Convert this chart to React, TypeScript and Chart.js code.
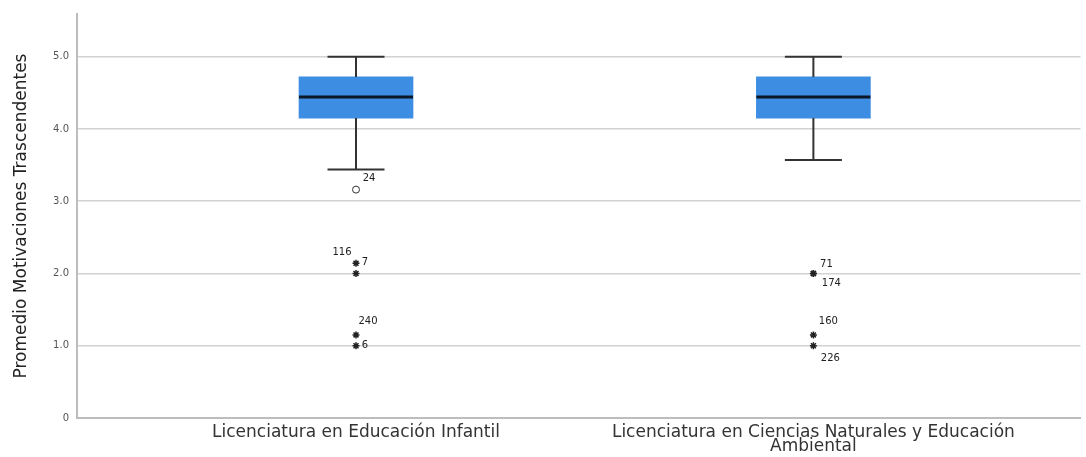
import React, { useEffect, useRef } from 'react';
import { Chart, registerables } from 'chart.js';

Chart.register(...registerables);

// ---- data ----
const categories = [
  'Licenciatura en Educación Infantil',
  'Licenciatura en Ciencias Naturales y Educación Ambiental',
];
const categoryLines = [
  ['Licenciatura en Educación Infantil'],
  ['Licenciatura en Ciencias Naturales y Educación', 'Ambiental'],
];
const whiskerLow = [3.44, 3.57];
const q1 = [4.15, 4.15];
const median = [4.44, 4.44];
const q3 = [4.72, 4.72];
const whiskerHigh = [5.0, 5.0];

const outlierCategory = [0, 0, 0, 0, 0, 1, 1, 1, 1];
const outlierValue = [3.16, 2.14, 2.0, 1.15, 1.0, 2.0, 2.0, 1.15, 1.0];
const outlierCase = ['24', '116', '7', '240', '6', '71', '174', '160', '226'];
const outlierKind = ['mild', 'extreme', 'extreme', 'extreme', 'extreme', 'extreme', 'extreme', 'extreme', 'extreme'];

const yTicks = [0, 1, 2, 3, 4, 5];
const yTitle = 'Promedio Motivaciones Trascendentes';

// ---- styles (label offsets in px relative to the point) ----
const labelOffsets: Record<string, [number, number]> = {
  '24': [13, -11],
  '116': [-14, -11],
  '7': [9, -11],
  '240': [12, -13],
  '6': [9, 0],
  '71': [13, -9],
  '174': [18, 10],
  '160': [15, -13],
  '226': [17, 13],
};

const FONT = "'DejaVu Sans', 'Liberation Sans', sans-serif";

const boxPlugin = {
  id: 'boxExtras',
  afterDatasetsDraw(chart: any) {
    const { ctx } = chart;
    const xs = chart.scales.x;
    const ys = chart.scales.y;
    const meta = chart.getDatasetMeta(0);
    ctx.save();
    categories.forEach((_, i) => {
      const el = meta.data[i];
      const cx = xs.getPixelForValue(i + 1);
      const w = el ? el.width : 114;
      const capHalf = w / 4;
      const yMin = ys.getPixelForValue(whiskerLow[i]);
      const yQ1 = ys.getPixelForValue(q1[i]);
      const yQ3 = ys.getPixelForValue(q3[i]);
      const yMax = ys.getPixelForValue(whiskerHigh[i]);
      const yMed = ys.getPixelForValue(median[i]);
      ctx.strokeStyle = '#333333';
      ctx.lineWidth = 2;
      ctx.beginPath();
      ctx.moveTo(cx, yQ3);
      ctx.lineTo(cx, yMax);
      ctx.moveTo(cx, yQ1);
      ctx.lineTo(cx, yMin);
      ctx.moveTo(cx - capHalf, yMax);
      ctx.lineTo(cx + capHalf, yMax);
      ctx.moveTo(cx - capHalf, yMin);
      ctx.lineTo(cx + capHalf, yMin);
      ctx.stroke();
      ctx.strokeStyle = '#0b1626';
      ctx.lineWidth = 3;
      ctx.beginPath();
      ctx.moveTo(cx - w / 2, yMed);
      ctx.lineTo(cx + w / 2, yMed);
      ctx.stroke();
    });
    ctx.fillStyle = '#222222';
    ctx.font = `10px ${FONT}`;
    ctx.textAlign = 'center';
    ctx.textBaseline = 'middle';
    outlierCase.forEach((lab, k) => {
      const px = xs.getPixelForValue(outlierCategory[k] + 1);
      const py = ys.getPixelForValue(outlierValue[k]);
      const off = labelOffsets[lab] || [10, 0];
      ctx.fillText(lab, px + off[0], py + off[1]);
    });
    ctx.restore();
  },
};

export default function App() {
  const ref = useRef<HTMLCanvasElement | null>(null);
  useEffect(() => {
    document.body.style.margin = '0';
    const canvas = ref.current;
    if (!canvas) return;
    const mild = outlierCase
      .map((_, k) => k)
      .filter((k) => outlierKind[k] === 'mild')
      .map((k) => ({ x: outlierCategory[k] + 1, y: outlierValue[k] }));
    const extreme = outlierCase
      .map((_, k) => k)
      .filter((k) => outlierKind[k] === 'extreme')
      .map((k) => ({ x: outlierCategory[k] + 1, y: outlierValue[k] }));
    const chart = new Chart(canvas, {
      type: 'bar',
      data: {
        datasets: [
          {
            type: 'bar',
            data: categories.map((_, i) => ({ x: i + 1, y: [q1[i], q3[i]] })) as any,
            backgroundColor: '#3d8de2',
            borderWidth: 0,
            barThickness: 114,
            grouped: false,
          } as any,
          {
            type: 'scatter',
            data: mild,
            pointStyle: 'circle',
            pointRadius: 3.5,
            pointBorderWidth: 1,
            pointBorderColor: '#333333',
            pointBackgroundColor: '#ffffff',
          } as any,
          {
            type: 'scatter',
            data: extreme,
            pointStyle: 'star',
            pointRadius: 3.5,
            pointBorderWidth: 1.5,
            pointBorderColor: '#222222',
            pointBackgroundColor: '#222222',
          } as any,
        ],
      },
      options: {
        responsive: false,
        animation: false,
        devicePixelRatio: 1,
        layout: { padding: { top: 13, right: 2, left: 0, bottom: 0 } },
        plugins: { legend: { display: false }, tooltip: { enabled: false } },
        scales: {
          x: {
            type: 'linear',
            min: 0.39,
            max: 2.584,
            offset: false,
            grid: { display: false, drawTicks: false, offset: false },
            border: { display: true, color: '#bdbdbd', width: 2 },
            afterBuildTicks: (s: any) => {
              s.ticks = categories.map((_, i) => ({ value: i + 1 }));
            },
            afterFit: (s: any) => {
              s.height = 39;
            },
            ticks: {
              autoSkip: false,
              maxRotation: 0,
              padding: 8,
              color: '#333333',
              font: { family: FONT, size: 17, lineHeight: '14px' },
              callback: (v: any) => categoryLines[Math.round(v) - 1] || '',
            },
          },
          y: {
            type: 'linear',
            min: 0,
            max: 5.59,
            grid: { color: '#d2d2d2', lineWidth: 1.5, drawTicks: false },
            border: { display: true, color: '#bdbdbd', width: 2 },
            afterBuildTicks: (s: any) => {
              s.ticks = yTicks.map((v) => ({ value: v }));
            },
            afterFit: (s: any) => {
              s.width = 77;
            },
            ticks: {
              padding: 8,
              color: '#555555',
              font: { family: FONT, size: 10 },
              callback: (v: any) => (v === 0 ? '0' : Number(v).toFixed(1)),
            },
            title: {
              display: true,
              text: yTitle,
              color: '#222222',
              font: { family: FONT, size: 17, lineHeight: 1.0 },
              padding: { top: 13, bottom: 0 },
            },
          },
        },
      },
      plugins: [boxPlugin],
    });
    return () => chart.destroy();
  }, []);
  return (
    <div style={{ width: 1086, height: 457 }}>
      <canvas ref={ref} width={1086} height={457} style={{ width: 1086, height: 457, display: 'block' }} />
    </div>
  );
}
